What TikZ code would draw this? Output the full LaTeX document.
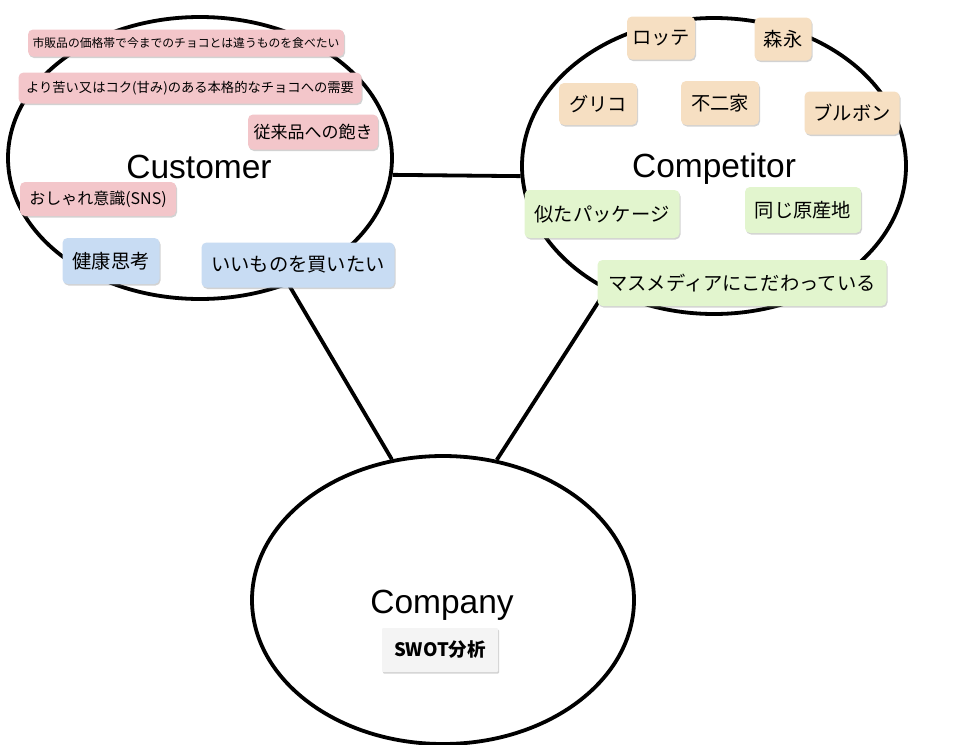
\documentclass[tikz,border=0pt]{standalone}
\usepackage{fontspec}
\setmainfont{Liberation Sans}
\newfontfamily\jp{Noto Sans CJK JP}
\usetikzlibrary{shapes.geometric,shadows}
\definecolor{cpink}{HTML}{F3C6CA}
\definecolor{cblue}{HTML}{C8DCF3}
\definecolor{cpeach}{HTML}{F6DFC2}
\definecolor{cgreen}{HTML}{E2F5CE}
\definecolor{cgrey}{HTML}{F4F4F4}
\begin{document}
\begin{tikzpicture}[x=1pt, y=-1pt,
  circ/.style={ellipse, draw, line width=3.8pt, fill=white, inner sep=0pt},
  link/.style={line width=3.8pt},
  tag/.style={rounded corners=5pt, inner sep=0pt, align=center,
    drop shadow={shadow xshift=1pt, shadow yshift=-1.5pt, opacity=0.35}},
  title/.style={font=\fontsize{33.5}{36}\selectfont}]
  \useasboundingbox (0,0) rectangle (958,744);
  % the three circles
  \node[circ, minimum width=384pt, minimum height=282pt] (cust) at (200,158) {};
  \node[circ, minimum width=384pt, minimum height=296pt] (comp) at (714,166) {};
  \node[circ, minimum width=382pt, minimum height=288pt] (firm) at (443,600) {};
  \draw[link] (cust.-5) -- (comp.183);
  \draw[link] (cust.-55) -- (firm.110);
  \draw[link] (comp.-131) -- (firm.69);
  \node[title] (custT) at (199,167) {Customer};
  \node[title] (compT) at (714,169) {Competitor};
  \node[title] (firmT) at (442,605) {Company};
  % customer side
  \foreach \n/\x/\y/\w/\h/\s/\t in {
      c1/186/43/316/27/11.8/市販品の価格帯で今までのチョコとは違うものを食べたい,
      c2/190/88/343/31/13.3/より苦い又はコク(甘み)のある本格的なチョコへの需要,
      c3/313/132/130/35/17/従来品への飽き,
      c4/98/199/156/34/16/おしゃれ意識(SNS)}
    \node[tag, fill=cpink, minimum width=\w pt, minimum height=\h pt,
      font=\jp\fontsize{\s}{\s}\selectfont] (\n) at (\x,\y) {\t};
  \foreach \n/\x/\y/\w/\h/\t in {c5/111/261/97/46/健康思考, c6/298/265/193/45/いいものを買いたい}
    \node[tag, fill=cblue, minimum width=\w pt, minimum height=\h pt,
      font=\jp\fontsize{19.3}{19.3}\selectfont] (\n) at (\x,\y) {\t};
  % competitor side
  \foreach \n/\x/\y/\w/\h/\t in {
      p1/661/38/68/43/ロッテ, p2/783/39/57/43/森永, p3/598/104/78/42/グリコ,
      p4/720/103/78/44/不二家, p5/852/113/95/43/ブルボン}
    \node[tag, fill=cpeach, minimum width=\w pt, minimum height=\h pt,
      font=\jp\fontsize{19.3}{19.3}\selectfont] (\n) at (\x,\y) {\t};
  \foreach \n/\x/\y/\w/\h/\t in {
      g1/602/214/155/48/似たパッケージ, g2/803/210/116/46/同じ原産地,
      g3/742/283/289/46/マスメディアにこだわっている}
    \node[tag, fill=cgreen, minimum width=\w pt, minimum height=\h pt,
      font=\jp\fontsize{19.3}{19.3}\selectfont] (\n) at (\x,\y) {\t};
  % company
  \node[tag, rounded corners=1pt, fill=cgrey, minimum width=116pt, minimum height=44pt,
    font=\jp\bfseries\fontsize{18.5}{18.5}\selectfont] (swot) at (440,650) {SWOT分析};
\end{tikzpicture}
\end{document}
